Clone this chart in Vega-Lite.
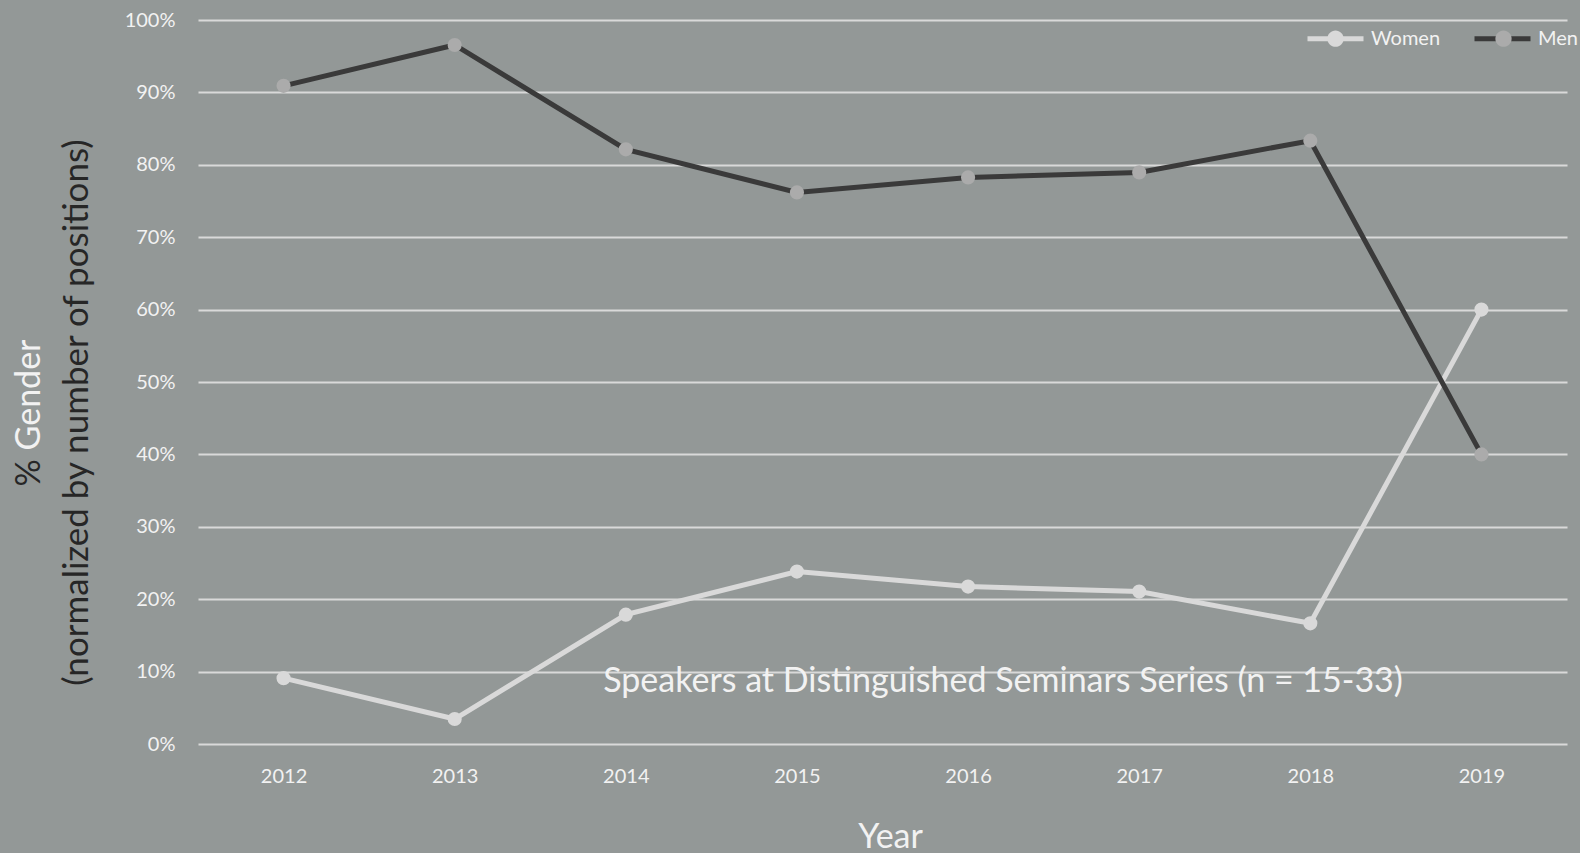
{
  "$schema": "https://vega.github.io/schema/vega-lite/v6.json",
  "width": 1369,
  "height": 724,
  "autosize": {"type": "none"},
  "padding": {"left": 198, "top": 20, "right": 13, "bottom": 109},
  "background": "#939897",
  "config": {
    "view": {"stroke": null},
    "font": "Lato",
    "axis": {"labelFont": "Lato", "titleFont": "Lato", "titleFontWeight": "normal"},
    "legend": {"labelFont": "Lato"}
  },
  "data": {
    "values": [
      {"year": 2012, "gender": "Women", "pct": 0.0909},
      {"year": 2013, "gender": "Women", "pct": 0.0345},
      {"year": 2014, "gender": "Women", "pct": 0.1786},
      {"year": 2015, "gender": "Women", "pct": 0.2381},
      {"year": 2016, "gender": "Women", "pct": 0.2174},
      {"year": 2017, "gender": "Women", "pct": 0.2105},
      {"year": 2018, "gender": "Women", "pct": 0.1667},
      {"year": 2019, "gender": "Women", "pct": 0.6},
      {"year": 2012, "gender": "Men", "pct": 0.9091},
      {"year": 2013, "gender": "Men", "pct": 0.9655},
      {"year": 2014, "gender": "Men", "pct": 0.8214},
      {"year": 2015, "gender": "Men", "pct": 0.7619},
      {"year": 2016, "gender": "Men", "pct": 0.7826},
      {"year": 2017, "gender": "Men", "pct": 0.7895},
      {"year": 2018, "gender": "Men", "pct": 0.8333},
      {"year": 2019, "gender": "Men", "pct": 0.4}
    ]
  },
  "resolve": {"axis": {"y": "independent"}},
  "layer": [
    {
      "mark": {"type": "line", "strokeWidth": 5},
      "encoding": {
        "x": {
          "field": "year", "type": "ordinal",
          "scale": {"type": "point", "padding": 0.5},
          "axis": {
            "title": "Year", "titleFontSize": 34, "titleColor": "#f2f2f2", "titlePadding": 34, "titleX": 692,
            "labelAngle": 0, "labelFontSize": 20, "labelColor": "#f2f2f2", "labelPadding": 22,
            "ticks": false, "domain": false, "grid": false
          }
        },
        "y": {
          "field": "pct", "type": "quantitative",
          "scale": {"domain": [0, 1], "nice": false},
          "axis": {
            "title": "(normalized by number of positions)", "titleFontSize": 35, "titleColor": "#262626",
            "titlePadding": 30, "titleY": 392,
            "values": [0, 0.1, 0.2, 0.3, 0.4, 0.5, 0.6, 0.7, 0.8, 0.9, 1],
            "format": ".0%", "labelFontSize": 20, "labelColor": "#f2f2f2", "labelPadding": 23,
            "ticks": false, "domain": false, "grid": true, "gridColor": "#d9d9d9", "gridWidth": 2
          }
        },
        "color": {
          "field": "gender", "type": "nominal",
          "scale": {"domain": ["Women", "Men"], "range": ["#d9d9d9", "#3a3a3a"]},
          "legend": {
            "title": null, "orient": "none", "direction": "horizontal",
            "legendX": 1107, "legendY": -12,
            "symbolType": "stroke", "symbolSize": 3136, "symbolStrokeWidth": 5,
            "labelFontSize": 20, "labelColor": "#f2f2f2", "labelOffset": 5, "columnPadding": 23
          }
        }
      }
    },
    {
      "mark": {"type": "point", "filled": true, "opacity": 1, "size": 200},
      "encoding": {
        "x": {"field": "year", "type": "ordinal", "scale": {"type": "point", "padding": 0.5}},
        "y": {
          "field": "pct", "type": "quantitative",
          "axis": {
            "orient": "left", "title": "Gender", "titleFontSize": 34, "titleColor": "#f2f2f2",
            "titlePadding": 152, "titleY": 319, "titleAlign": "right",
            "labels": false, "ticks": false, "domain": false, "grid": false
          }
        },
        "fill": {
          "field": "gender", "type": "nominal", "sort": ["Women", "Men"],
          "scale": {"range": ["#d9d9d9", "#ababab"]},
          "legend": {
            "title": null, "orient": "none", "direction": "horizontal",
            "legendX": 1107, "legendY": -12,
            "symbolType": "M-0.29,0A0.29,0.29,0,1,1,0.29,0A0.29,0.29,0,1,1,-0.29,0Z",
            "symbolSize": 3136, "symbolStrokeWidth": 5, "symbolStrokeColor": "transparent",
            "labelFontSize": 20, "labelColor": "#f2f2f2", "labelOpacity": 0, "labelOffset": 5, "columnPadding": 32
          }
        }
      }
    },
    {
      "data": {"values": [{"label": "Speakers at Distinguished Seminars Series (n = 15-33)"}]},
      "mark": {"type": "text", "fontSize": 34, "fontWeight": "normal", "color": "#f2f2f2", "align": "center", "baseline": "middle", "dx": 35},
      "encoding": {
        "x": {"datum": 2016, "type": "ordinal"},
        "y": {
          "datum": 0.086, "type": "quantitative",
          "axis": {
            "orient": "left", "title": "%", "titleFontSize": 34, "titleColor": "#262626",
            "titlePadding": 152, "titleY": 466, "titleAlign": "left",
            "labels": false, "ticks": false, "domain": false, "grid": false
          }
        },
        "text": {"field": "label", "type": "nominal"}
      }
    }
  ]
}
